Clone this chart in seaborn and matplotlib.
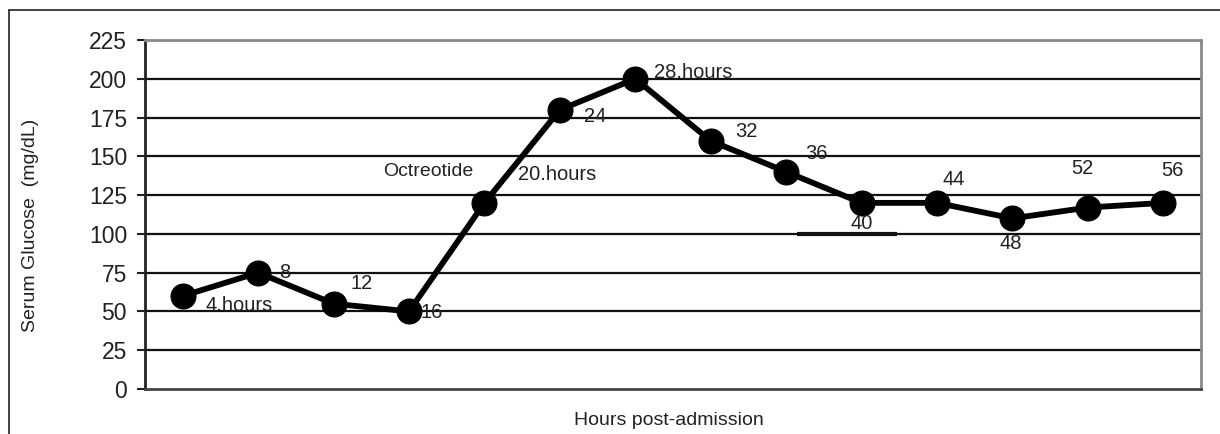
import matplotlib
matplotlib.use("Agg")
import matplotlib.pyplot as plt
from matplotlib.lines import Line2D
import seaborn as sns
import pandas as pd

# data
hours = [4, 8, 12, 16, 20, 24, 28, 32, 36, 40, 44, 48, 52, 56]
glucose = [60, 75, 55, 50, 120, 180, 200, 160, 140, 120, 120, 110, 117, 120]
point_labels = ["4.hours", "8", "12", "16", "20.hours", "24", "28.hours",
                "32", "36", "40", "44", "48", "52", "56"]
y_ticks = [0, 25, 50, 75, 100, 125, 150, 175, 200, 225]

# layout of the point labels (x, y, horizontal alignment) in data units
label_pos = [(5.2, 54, "left"), (9.1, 75, "left"), (13.5, 68, "center"),
             (16.6, 49, "left"), (21.8, 138, "left"), (25.3, 176, "left"),
             (29.0, 204, "left"), (33.9, 166, "center"), (37.6, 152, "center"),
             (40.0, 107, "center"), (44.9, 135, "center"), (47.9, 94, "center"),
             (51.7, 142, "center"), (56.5, 141, "center")]

df = pd.DataFrame({"Hours": hours, "Glucose": glucose})

sns.set_style("white")
plt.rcParams["font.family"] = ["Liberation Sans", "DejaVu Sans"]

fig = plt.figure(figsize=(12.2, 4.34), dpi=100)
ax = fig.add_axes([0.1189, 0.1037, 0.8655, 0.8041])

# horizontal grid lines
for yv in y_ticks[1:-1]:
    ax.axhline(yv, color="#111111", lw=1.6, zorder=1)
# odd thick stroke under the "40" label
ax.hlines(100, 36.6, 41.9, color="#111111", lw=3, zorder=1)

sns.lineplot(data=df, x="Hours", y="Glucose", ax=ax, color="black",
             lw=4.2, marker="o", markersize=18, markeredgecolor="black",
             zorder=3)

for txt, (lx, ly, ha) in zip(point_labels, label_pos):
    ax.text(lx, ly, txt, ha=ha, va="center", fontsize=14.5, color="#222222")
ax.text(17.0, 140, "Octreotide", ha="center", va="center", fontsize=14,
        color="#222222")

ax.set_xlim(2, 58)
ax.set_ylim(0, 225)
ax.set_yticks(y_ticks)
ax.set_xticks([])
ax.tick_params(axis="y", length=6, width=1.5, pad=7, labelsize=16.5,
               direction="out", left=True, colors="#222222")

ax.spines["left"].set_color("#222222")
ax.spines["left"].set_linewidth(2)
ax.spines["bottom"].set_color("#444444")
ax.spines["bottom"].set_linewidth(2)
ax.spines["top"].set_color("#8a8a8a")
ax.spines["top"].set_linewidth(2)
ax.spines["right"].set_color("#8a8a8a")
ax.spines["right"].set_linewidth(2)

ax.set_xlabel("Hours post-admission", fontsize=14, color="#222222")
ax.set_ylabel("Serum Glucose  (mg/dL)", fontsize=14, color="#222222")
ax.xaxis.set_label_coords(0.496, -0.065)
ax.yaxis.set_label_coords(-0.1, 0.47)

# outer frame: top and left only
fig.add_artist(Line2D([0.0074, 1.0], [0.977, 0.977], color="#222222", lw=1.2,
                      transform=fig.transFigure))
fig.add_artist(Line2D([0.0074, 0.0074], [0.0, 0.977], color="#222222", lw=1.2,
                      transform=fig.transFigure))

fig.savefig("out.png", dpi=100)
